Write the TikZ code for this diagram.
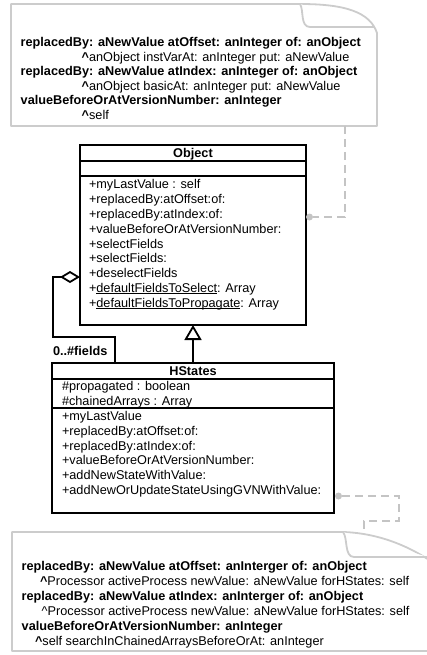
\documentclass[tikz,border=0pt]{standalone}
\usepackage{fontspec}
\setmainfont{Liberation Sans}
\usetikzlibrary{arrows.meta,calc}
\definecolor{notegray}{RGB}{204,204,204}
\definecolor{linkgray}{RGB}{196,196,196}
% underline that sits just below the baseline, independent of descenders
\newcommand{\undl}[1]{\leavevmode\setbox0\hbox{#1}\rlap{\rule[-1.6pt]{\wd0}{0.8pt}}\box0}
\newcommand{\caret}{\textasciicircum}
\begin{document}
\begin{tikzpicture}[x=1pt,y=-1pt,
  every node/.style={inner sep=0pt, outer sep=0pt},
  txt/.style={anchor=base west, font=\fontsize{12.7}{14.7}\selectfont},
  btxt/.style={anchor=base west, font=\fontsize{12.7}{14.7}\selectfont\bfseries},
  title/.style={anchor=base, font=\fontsize{12.7}{14.7}\selectfont\bfseries},
  umlbox/.style={draw=black, line width=1.8pt, fill=white},
  rule/.style={draw=black, line width=1.8pt},
  note/.style={draw=notegray, line width=1.8pt, fill=white, line join=round},
  link/.style={draw=linkgray, line width=1.8pt, dash pattern=on 8pt off 5pt},
  pin/.style={circle, fill=linkgray, minimum size=7pt}]

\useasboundingbox (0,0) rectangle (427,655);

% ---------- upper note ----------
\draw[note] (11,4) -- (300,4) .. controls (345,4) and (370,12) .. (377,33)
  -- (377,126) -- (11,126) -- cycle;
\draw[note] (300,4) .. controls (304,10) and (300,27) .. (310,27) -- (374,27);
\coordinate (topnote-tail) at (345,126);

\node[btxt] (tn1) at (20.7,46.8)  {replacedBy: aNewValue atOffset: anInteger of: anObject};
\node[txt]  (tn2) at (81.7,61.3)  {\textbf{\caret}anObject instVarAt: anInteger put: aNewValue};
\node[btxt] (tn3) at (20.7,75.9)  {replacedBy: aNewValue atIndex: anInteger of: anObject};
\node[txt]  (tn4) at (81.7,90.4)  {\textbf{\caret}anObject basicAt: anInteger put: aNewValue};
\node[btxt] (tn5) at (20.7,105.0) {valueBeforeOrAtVersionNumber: anInteger};
\node[txt]  (tn6) at (81.7,119.5) {\textbf{\caret}self};

% ---------- class Object ----------
\node[umlbox, minimum width=226pt, minimum height=180pt] (obj) at (193,235) {};
\draw[rule] ($(obj.north west)+(0,16)$) -- ($(obj.north east)+(0,16)$);
\draw[rule] ($(obj.north west)+(0,31)$) -- ($(obj.north east)+(0,31)$);
\node[title] (objname) at (193,157.5) {Object};
\foreach \t [count=\i] in {
  +myLastValue : self,
  +replacedBy:atOffset:of:,
  +replacedBy:atIndex:of:,
  +valueBeforeOrAtVersionNumber:,
  +selectFields,
  +selectFields:,
  +deselectFields,
  +\undl{defaultFieldsToSelect} : Array,
  +\undl{defaultFieldsToPropagate} : Array}
  \node[txt] (om\i) at (89,{189+14.75*(\i-1)}) {\t};

% ---------- class HStates ----------
\node[umlbox, minimum width=282pt, minimum height=150pt] (hs) at (193,438) {};
\draw[rule] ($(hs.north west)+(0,16)$) -- ($(hs.north east)+(0,16)$);
\draw[rule] ($(hs.north west)+(0,45)$) -- ($(hs.north east)+(0,45)$);
\node[title] (hsname) at (193,375.5) {HStates};
\node[txt] (ha1) at (62,390.5) {\#propagated : boolean};
\node[txt] (ha2) at (62,405.0) {\#chainedArrays : Array};
\foreach \t [count=\i] in {
  +myLastValue,
  +replacedBy:atOffset:of:,
  +replacedBy:atIndex:of:,
  +valueBeforeOrAtVersionNumber:,
  +addNewStateWithValue:,
  +addNewOrUpdateStateUsingGVNWithValue:}
  \node[txt] (hm\i) at (62,{420.5+14.8*(\i-1)}) {\t};

% ---------- relations ----------
\draw[rule, -{Triangle[open, length=15pt, width=17pt, line width=1.8pt]}]
  (hs.north) -- (obj.south);
\draw[rule, {Diamond[open, length=20pt, width=12pt, line width=1.8pt]}-, line join=miter]
  (obj.west |- 0,277) -- (53,277) -- (53,337) -- (115,337) -- (hs.north -| 115,0);
\node[btxt] (mult) at (53,355.5) {0..\#fields};

% ---------- note links ----------
\node[pin] (pin1) at ($(obj.east |- 0,217)+(3.5,0)$) {};
\draw[link] (topnote-tail) |- (pin1);

\coordinate (botnote-tail) at (364,532);
\node[pin] (pin2) at ($(hs.east |- 0,496)+(4.5,0)$) {};
\draw[link] (pin2) -- (399,496) -- (399,521) -- (364,521) -- (botnote-tail);

% ---------- lower note ----------
\draw[note] (12,532) -- (343,532) .. controls (380,533) and (415,548) .. (440,568)
  -- (440,651) -- (12,651) -- cycle;
\draw[note] (343,532) .. controls (348,538) and (344,557) .. (354,557) -- (428,557);

\node[btxt] (bn1) at (21.7,570.5) {replacedBy: aNewValue atOffset: anInterger of: anObject};
\node[txt]  (bn2) at (40,585.5)   {\textbf{\caret}Processor activeProcess newValue: aNewValue forHStates: self};
\node[btxt] (bn3) at (21.7,600.5) {replacedBy: aNewValue atIndex: anInterger of: anObject};
\node[txt]  (bn4) at (41.7,615.5) {\caret Processor activeProcess newValue: aNewValue forHStates: self};
\node[btxt] (bn5) at (21.7,630.5) {valueBeforeOrAtVersionNumber: anInteger};
\node[txt]  (bn6) at (35,645.5)   {\textbf{\caret}self searchInChainedArraysBeforeOrAt: anInteger};
\end{tikzpicture}
\end{document}
